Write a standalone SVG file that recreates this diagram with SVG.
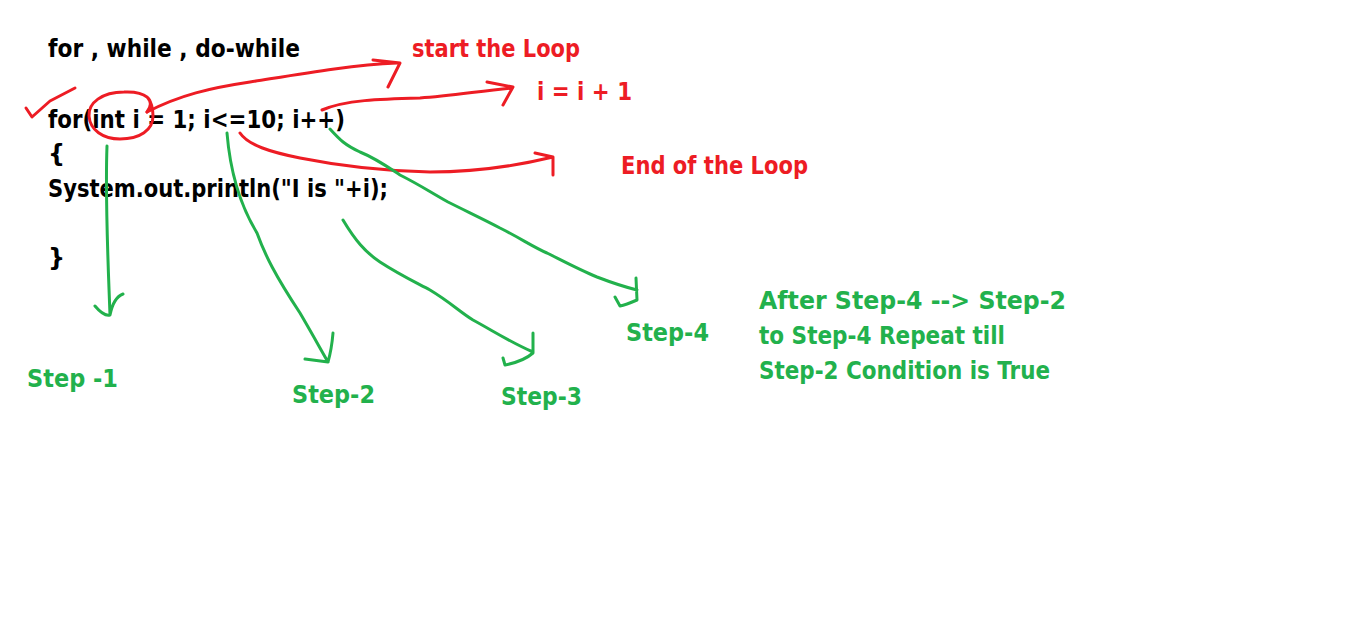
<svg xmlns="http://www.w3.org/2000/svg" width="1357" height="636" viewBox="0 0 1357 636">
<style>
text{font-family:"DejaVu Sans","Open Sans",sans-serif;font-weight:bold;font-size:24px}
.k{fill:#000}
.r{fill:#ED1C24}
.g{fill:#22B14C}
.sr{fill:none;stroke:#ED1C24;stroke-width:3;stroke-linecap:round;stroke-linejoin:round}
.sg{fill:none;stroke:#22B14C;stroke-width:3;stroke-linecap:round;stroke-linejoin:round}
</style>
<rect width="1357" height="636" fill="#fff"/>
<g id="code">
<text class="k" x="48" y="57" textLength="252" lengthAdjust="spacingAndGlyphs">for , while , do-while</text>
<text class="k" x="48" y="128" textLength="297" lengthAdjust="spacingAndGlyphs">for(int i = 1; i&lt;=10; i++)</text>
<text class="k" x="48" y="162">{</text>
<text class="k" x="48" y="197" textLength="340" lengthAdjust="spacingAndGlyphs">System.out.println("I is "+i);</text>
<text class="k" x="48" y="266">}</text>
</g>
<g id="start-label"><text class="r" x="412" y="57" textLength="168" lengthAdjust="spacingAndGlyphs">start the Loop</text></g>
<g id="incr-label"><text class="r" x="537" y="100" textLength="95" lengthAdjust="spacingAndGlyphs">i = i + 1</text></g>
<g id="end-label"><text class="r" x="621" y="174" textLength="187" lengthAdjust="spacingAndGlyphs">End of the Loop</text></g>
<g id="step1"><text class="g" x="27" y="387" textLength="91" lengthAdjust="spacingAndGlyphs">Step -1</text></g>
<g id="step2"><text class="g" x="292" y="403" textLength="83" lengthAdjust="spacingAndGlyphs">Step-2</text></g>
<g id="step3"><text class="g" x="501" y="405" textLength="81" lengthAdjust="spacingAndGlyphs">Step-3</text></g>
<g id="step4"><text class="g" x="626" y="341" textLength="83" lengthAdjust="spacingAndGlyphs">Step-4</text></g>
<g id="note">
<text class="g" x="759" y="309" textLength="307" lengthAdjust="spacingAndGlyphs">After Step-4 --&gt; Step-2</text>
<text class="g" x="759" y="344" textLength="246" lengthAdjust="spacingAndGlyphs">to Step-4 Repeat till</text>
<text class="g" x="759" y="379" textLength="291" lengthAdjust="spacingAndGlyphs">Step-2 Condition is True</text>
</g>
<g id="connectors">
<path class="sr" d="M26,108 L32,117 L50,101 L75,88"/>
<path class="sr" d="M147,112 C156,100 146,91 124,92 C102,92 88,103 89,116 C90,130 103,139 120,139 C140,139 153,130 153,116 C153,108 151,102 148,98"/>
<path class="sr" d="M147,112 C180,95 210,88 250,82 C300,74 350,65 397,63 M373,60 L400,63 L388,87"/>
<path class="sr" d="M322,110 C345,100 380,99 420,98 C450,96 480,91 512,88 M487,82 L513,87 L503,105"/>
<path class="sr" d="M240,133 C248,145 270,152 300,158 C340,166 380,171 430,172 C480,172 520,165 553,157 M535,153 L553,157 L553,175"/>
<path class="sg" d="M107,146 C105,200 108,260 110,315 M95,306 C100,312 106,316 110,315 C112,305 115,297 123,294"/>
<path class="sg" d="M227,133 C230,170 240,205 257,233 C265,255 275,275 300,313 C310,330 320,348 328,362 M333,333 C332,345 330,355 328,362 L305,359"/>
<path class="sg" d="M343,220 C355,240 365,252 380,262 C400,275 415,282 430,290 C450,302 460,312 473,320 C495,332 510,342 533,352 M533,333 L533,353 C525,360 515,363 505,365 L503,358"/>
<path class="sg" d="M330,129 C340,140 345,145 360,152 C375,158 385,165 400,175 C420,185 430,192 448,202 C470,213 485,220 500,228 C520,238 535,248 547,253 C565,262 580,270 597,277 C610,282 625,287 637,290 M636,278 L637,300 C630,303 625,305 620,306 L615,297"/>
</g>
</svg>
